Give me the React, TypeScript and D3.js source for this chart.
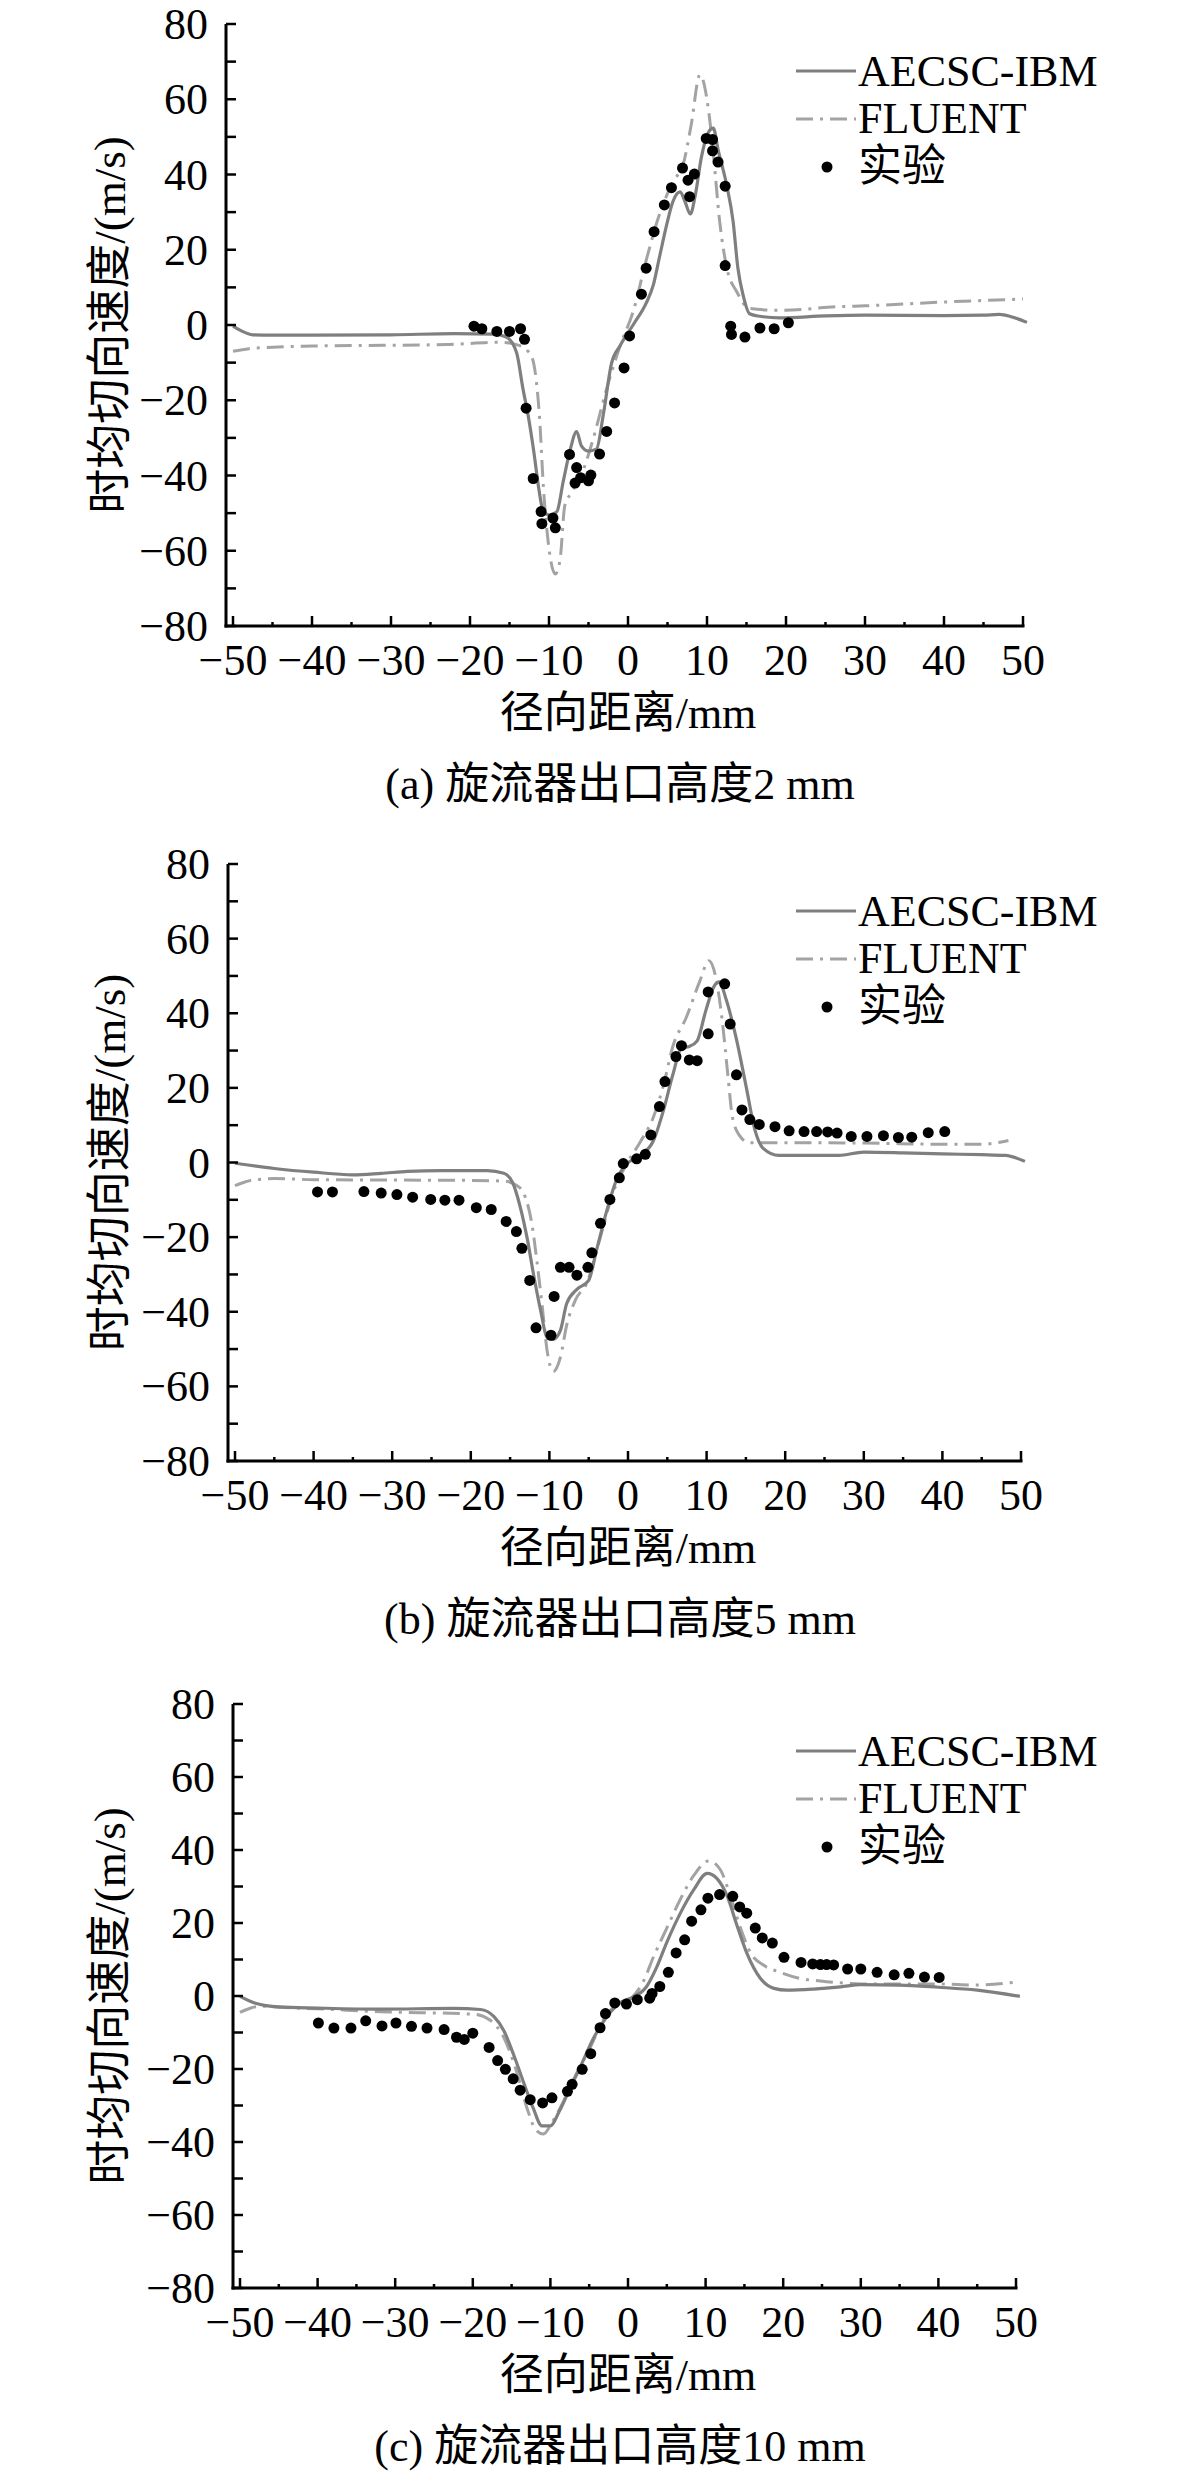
import React from 'react';
import * as d3 from 'd3';

type Pt = [number, number];

const xTickValues = d3.range(-50, 51, 10);
const xMinorValues = d3.range(-45, 50, 10);
const yTickValues = d3.range(-80, 81, 20);
const yMinorValues = d3.range(-70, 80, 20);

const seriesNames = ['AECSC-IBM', 'FLUENT', '实验'];
const captions = ['(a) 旋流器出口高度2 mm', '(b) 旋流器出口高度5 mm', '(c) 旋流器出口高度10 mm'];
const xTitle = '径向距离/mm';
const yTitle = '时均切向速度/(m/s)';

// (a) 2 mm
const ibmA: Pt[] = [
  [-50, -0.3], [-49, -1.5], [-47.5, -2.6], [-45, -2.7], [-40, -2.7], [-30, -2.6], [-22, -2.3], [-17, -2.4],
  [-15.4, -3.2], [-14.1, -7.4], [-13.3, -16.9], [-12.6, -24.5], [-11.9, -34], [-11.3, -43.4], [-10.7, -49.6],
  [-9.9, -50.5], [-9.0, -49.6], [-8.2, -41.6], [-7.3, -33], [-6.5, -28.3], [-5.9, -32.1], [-5.0, -33.5],
  [-4.0, -33], [-3.1, -23.5], [-2.1, -10.3], [-1.0, -5.5], [0.7, 0.2], [2.3, 5.8], [3.2, 10.6], [4.0, 18.2],
  [4.9, 26.7], [5.7, 32.9], [6.6, 35.4], [7.2, 32.9], [7.9, 29.5], [8.5, 34.3], [9.3, 44.7], [10.2, 51.3],
  [10.8, 52.3], [11.4, 46.6], [12.5, 37.1], [13.3, 27.6], [13.9, 15.3], [14.6, 7.7], [15.4, 3.0], [17.1, 2.2],
  [19.2, 1.9], [25, 2.4], [30, 2.6], [40, 2.5], [45, 2.6], [47, 2.8], [48.5, 2.2], [50.5, 0.7],
];
const fluentA: Pt[] = [
  [-50, -7.0], [-48, -6.3], [-45, -5.9], [-40, -5.6], [-31, -5.4], [-23, -5.2], [-16.2, -4.6], [-13.7, -5.5],
  [-12.2, -8.4], [-11.6, -15], [-11.2, -24.5], [-10.7, -43.4], [-10.1, -57.7], [-9.2, -66.2], [-8.6, -62.4],
  [-8.0, -48], [-7.1, -44.4], [-5.7, -38.7], [-4.4, -30.2], [-2.7, -16.9], [-1.0, -5.5], [0.7, 3.9],
  [2.3, 17.2], [4.0, 29.5], [5.7, 38.1], [7.0, 42.8], [8.0, 53.2], [9.1, 66.5], [10.2, 57], [10.8, 45.6],
  [11.6, 27.6], [12.5, 15.3], [13.8, 8.7], [15.4, 4.4], [19.2, 3.9], [27, 4.9], [30, 5.1], [40, 6.1], [50, 6.9],
];
const expA: Pt[] = [
  [-19.5, -0.3], [-18.5, -1.0], [-16.6, -1.7], [-15.0, -1.7], [-13.6, -1.0], [-13.1, -3.8], [-12.9, -22.1],
  [-12.0, -40.8], [-11.0, -49.6], [-10.9, -52.8], [-9.5, -51.3], [-9.2, -53.9], [-7.4, -34.4], [-6.5, -37.9],
  [-6.7, -42], [-6.0, -40.6], [-5.0, -41.4], [-4.7, -39.9], [-3.6, -34.3], [-2.7, -28.3], [-1.7, -20.7],
  [-0.5, -11.4], [0.2, -2.9], [1.7, 8.2], [2.3, 15.1], [3.3, 24.8], [4.6, 31.9], [5.5, 36.5], [6.9, 41.7],
  [7.6, 38.5], [8.4, 40.1], [7.8, 34.1], [9.9, 49.6], [10.7, 49.3], [10.7, 46.3], [11.4, 43.3], [12.3, 36.9],
  [12.3, 15.8], [13.0, -0.3], [13.1, -2.5], [14.8, -3.2], [16.7, -0.8], [18.5, -1.0], [20.3, 0.6],
];

// (b) 5 mm
const ibmB: Pt[] = [
  [-50, -0.2], [-45, -1.6], [-40, -2.6], [-35, -3.3], [-31.4, -2.9], [-28, -2.4], [-23.8, -2.2], [-17.9, -2.2],
  [-15.8, -2.9], [-14.7, -5.3], [-13.7, -12], [-12.8, -20.6], [-12.0, -30.2], [-11.1, -39.8], [-10.3, -46.9],
  [-9.5, -47.4], [-8.6, -45], [-7.8, -37.8], [-6.5, -34], [-5.0, -31.6], [-4.0, -23.5], [-2.7, -12.9],
  [-1.4, -4.3], [-0.2, -0.5], [1.5, 1.9], [3.2, 5.7], [4.5, 13.9], [5.7, 23.5], [6.8, 30.7], [7.8, 31.1],
  [8.8, 32.6], [9.9, 40.7], [11.0, 47.4], [11.6, 48.4], [12.5, 43.6], [13.8, 33], [15.1, 19.6], [16.1, 9.1],
  [17.2, 3.8], [19.2, 1.9], [26.8, 1.9], [30, 2.8], [35, 2.6], [40, 2.3], [45, 2.1], [48, 1.9], [50.5, 0.3],
];
const fluentB: Pt[] = [
  [-50, -6.2], [-48, -4.8], [-45, -4.3], [-40, -4.6], [-30, -4.7], [-20, -4.8], [-15.8, -5], [-14.1, -6.2],
  [-13.1, -9.1], [-12.2, -16.8], [-11.6, -26.3], [-10.9, -38.8], [-10.3, -50.3], [-9.5, -56], [-8.6, -52.2],
  [-7.8, -43.6], [-6.7, -36.9], [-5.2, -32.1], [-3.6, -20.6], [-1.9, -8.1], [-0.2, -0.5], [1.5, 5.3],
  [3.2, 12], [4.5, 20.6], [5.7, 31.1], [7.4, 38.8], [9.1, 48.4], [10.3, 54.1], [11.2, 49.3], [12.0, 37.8],
  [12.7, 23.5], [13.3, 12], [14.2, 7.2], [15.4, 5.3], [19.2, 5.3], [30, 5.2], [40, 4.9], [45, 4.9], [48.4, 5.9],
];
const expB: Pt[] = [
  [-39.5, -7.9], [-37.6, -7.9], [-33.6, -7.8], [-31.4, -8.2], [-29.4, -8.6], [-27.4, -9.3], [-25.1, -9.9],
  [-23.3, -10.1], [-21.5, -10.1], [-19.3, -12.1], [-17.4, -12.6], [-15.5, -15.8], [-14.2, -18.5], [-13.5, -23],
  [-12.5, -31.6], [-11.7, -44.3], [-9.8, -46.3], [-9.4, -35.9], [-8.6, -28.1], [-7.5, -28.1], [-6.5, -30.2],
  [-5.1, -28.1], [-4.6, -24.2], [-3.5, -16.3], [-2.3, -9.9], [-1.1, -4.1], [-0.6, -0.3], [1.1, 1], [2.2, 2.2],
  [2.9, 7.4], [4, 15], [4.7, 21.7], [6.1, 28.4], [6.8, 31.3], [7.8, 27.5], [8.8, 27.3], [10.2, 34.5],
  [10.2, 45.7], [12.3, 47.9], [13, 37.1], [13.8, 23.5], [14.5, 14.1], [15.5, 11.5], [16.7, 10.2], [18.7, 9.6],
  [20.5, 8.5], [22.4, 8.3], [24, 8.3], [25.4, 8.2], [26.6, 7.9], [28.4, 7], [30.4, 7], [32.5, 7.2], [34.4, 6.7],
  [36.1, 6.8], [38.2, 8], [40.3, 8.3],
];

// (c) 10 mm
const ibmC: Pt[] = [
  [-50, -0.1], [-48, -2], [-45, -3], [-40, -3.3], [-31.9, -3.6], [-22.5, -3.4], [-19.0, -3.7], [-17.3, -5.6],
  [-16.0, -9.5], [-14.7, -16.3], [-13.4, -24], [-12.2, -30.8], [-11.1, -35.6], [-10.0, -35.6], [-8.9, -31.8],
  [-7.6, -25.9], [-6.1, -19.2], [-4.4, -11.4], [-2.7, -5.6], [-0.9, -1.7], [0.7, -0.3], [2.4, 2.6], [3.7, 7.9],
  [5.0, 14.7], [6.7, 22.5], [8.5, 29.2], [10.2, 33.6], [11.5, 32.1], [12.8, 27.3], [14.0, 19.6], [15.3, 11.8],
  [17.0, 5], [18.8, 2.1], [20.5, 1.6], [23.9, 1.9], [27.4, 2.5], [30, 3.1], [35, 3.0], [40, 2.4], [45, 1.6],
  [50.5, -0.1],
];
const fluentC: Pt[] = [
  [-50, -4.5], [-48.5, -3.2], [-47, -2.8], [-45, -3.1], [-40, -3.5], [-31.9, -4.3], [-19.9, -5.0],
  [-17.8, -6.6], [-16.0, -11.4], [-14.3, -21.1], [-13.0, -30.8], [-11.9, -36.6], [-10.9, -37.8], [-9.8, -34.7],
  [-8.3, -28.8], [-6.6, -21.1], [-4.9, -14.3], [-3.2, -6.6], [-1.4, -2.2], [0.3, -0.8], [2.0, 4.1], [3.3, 10.8],
  [5.0, 18.6], [6.7, 26.3], [8.5, 33.1], [10.4, 37], [11.9, 34.6], [13.2, 27.3], [14.5, 18.6], [15.8, 11.8],
  [17.5, 8.4], [19.6, 6.5], [22.2, 4.8], [24.8, 4.1], [27.4, 3.6], [30, 3.3], [40, 3.3], [45, 3.0], [50, 3.8],
];
const expC: Pt[] = [
  [-39.9, -7.4], [-37.9, -8.8], [-35.7, -8.8], [-33.8, -6.8], [-31.7, -8.2], [-29.9, -7.4], [-27.9, -8.3],
  [-25.9, -8.8], [-23.7, -9.2], [-22.1, -11.3], [-21.1, -11.9], [-20.0, -10.2], [-17.9, -14.1], [-16.8, -17.7],
  [-15.8, -20.1], [-14.8, -22.7], [-13.9, -25.8], [-12.6, -28.4], [-11.0, -29.3], [-9.8, -27.9], [-7.8, -26.1],
  [-7.2, -24.2], [-5.9, -20.1], [-4.8, -15.8], [-3.6, -8.7], [-2.9, -4.8], [-1.7, -1.9], [-0.2, -2.2],
  [1.2, -1.0], [2.8, -0.6], [3.1, 0.7], [4.1, 2.6], [5.2, 6.5], [6.2, 11.8], [7.3, 15.4], [8.2, 20.5],
  [9.4, 23.6], [10.3, 26.8], [11.8, 27.8], [13.5, 27.3], [14.4, 24.4], [15.3, 22.7], [16.4, 18.6], [17.3, 15.9],
  [18.6, 14.5], [20.1, 10.6], [22.3, 9.2], [23.8, 8.8], [24.8, 8.6], [25.6, 8.6], [26.5, 8.5], [28.3, 7.4],
  [30.0, 7.4], [32.1, 6.5], [34.3, 5.8], [36.2, 6.2], [38.2, 5.2], [40.1, 5.1],
];

const FONT = '"Liberation Serif", "Times New Roman", "Noto Sans CJK SC", serif';
const IBM_COLOR = '#7f7f7f';
const FLUENT_COLOR = '#a3a3a3';
const FLUENT_DASH = '17,7,3,7';

type PanelProps = {
  box: { left: number; right: number; top: number; bottom: number };
  ibm: Pt[];
  fluent: Pt[];
  exp: Pt[];
  caption: string;
};

function Panel({ box, ibm, fluent, exp, caption }: PanelProps) {
  const x = d3.scaleLinear().domain([-50, 50]).range([box.left, box.right]);
  const y = d3.scaleLinear().domain([-80, 80]).range([box.bottom, box.top]);
  const line = d3
    .line<Pt>()
    .x((d) => x(d[0]))
    .y((d) => y(d[1]))
    .curve(d3.curveMonotoneX);
  const fmt = d3.format('d');
  const axisX = box.left - 7;
  const midY = (box.top + box.bottom) / 2;
  const legX = 796;

  return (
    <g fontFamily={FONT} fill="#000">
      <path d={line(fluent) ?? ''} fill="none" stroke={FLUENT_COLOR} strokeWidth={3} strokeDasharray={FLUENT_DASH} />
      <path d={line(ibm) ?? ''} fill="none" stroke={IBM_COLOR} strokeWidth={3.2} />
      {exp.map((d, i) => (
        <circle key={i} cx={x(d[0])} cy={y(d[1])} r={5.5} fill="#000" />
      ))}

      {/* axes */}
      <line x1={axisX} x2={axisX} y1={box.top} y2={box.bottom + 1.5} stroke="#000" strokeWidth={3} />
      <line x1={axisX - 1.5} x2={box.right + 1.5} y1={box.bottom} y2={box.bottom} stroke="#000" strokeWidth={3} />
      {yTickValues.concat(yMinorValues).map((v) => (
        <line key={'yt' + v} x1={axisX} x2={axisX + 10} y1={y(v)} y2={y(v)} stroke="#000" strokeWidth={2.5} />
      ))}
      {xTickValues.map((v) => (
        <line key={'xt' + v} x1={x(v)} x2={x(v)} y1={box.bottom} y2={box.bottom - 10} stroke="#000" strokeWidth={2.5} />
      ))}
      {xMinorValues.map((v) => (
        <line key={'xm' + v} x1={x(v)} x2={x(v)} y1={box.bottom} y2={box.bottom - 4} stroke="#000" strokeWidth={2.5} />
      ))}
      {yTickValues.map((v) => (
        <text key={'yl' + v} x={axisX - 18} y={y(v) + 15} fontSize={44} textAnchor="end">
          {fmt(v)}
        </text>
      ))}
      {xTickValues.map((v) => (
        <text key={'xl' + v} x={x(v)} y={box.bottom + 49} fontSize={44} textAnchor="middle">
          {fmt(v)}
        </text>
      ))}

      <text x={x(0)} y={box.bottom + 87} fontSize={44} textAnchor="middle" dominantBaseline="central">
        {xTitle}
      </text>
      <text
        transform={`translate(110,${midY}) rotate(-90)`}
        fontSize={45}
        textAnchor="middle"
        dominantBaseline="central"
      >
        {yTitle}
      </text>
      <text x={620} y={box.bottom + 158} fontSize={44} textAnchor="middle" dominantBaseline="central">
        {caption}
      </text>

      {/* legend */}
      <line x1={legX} x2={legX + 60} y1={box.top + 47} y2={box.top + 47} stroke={IBM_COLOR} strokeWidth={3.2} />
      <line
        x1={legX}
        x2={legX + 60}
        y1={box.top + 95}
        y2={box.top + 95}
        stroke={FLUENT_COLOR}
        strokeWidth={3}
        strokeDasharray={FLUENT_DASH}
      />
      <circle cx={legX + 31} cy={box.top + 143} r={5.5} fill="#000" />
      {seriesNames.map((s, i) => (
        <text key={s} x={legX + 62} y={box.top + 47 + i * 47.5} fontSize={44} dominantBaseline="central">
          {s}
        </text>
      ))}
    </g>
  );
}

const panels = [
  { box: { left: 233, right: 1023, top: 24, bottom: 626 }, ibm: ibmA, fluent: fluentA, exp: expA },
  { box: { left: 235, right: 1021, top: 864, bottom: 1461 }, ibm: ibmB, fluent: fluentB, exp: expB },
  { box: { left: 240, right: 1016, top: 1704, bottom: 2288 }, ibm: ibmC, fluent: fluentC, exp: expC },
];

export default function App() {
  return (
    <div style={{ position: 'absolute', left: 0, top: 0, background: '#fff' }}>
      <svg width={1181} height={2480} viewBox="0 0 1181 2480" style={{ display: 'block' }}>
        <rect width={1181} height={2480} fill="#fff" />
        {panels.map((p, i) => (
          <Panel key={i} box={p.box} ibm={p.ibm} fluent={p.fluent} exp={p.exp} caption={captions[i]} />
        ))}
      </svg>
    </div>
  );
}
